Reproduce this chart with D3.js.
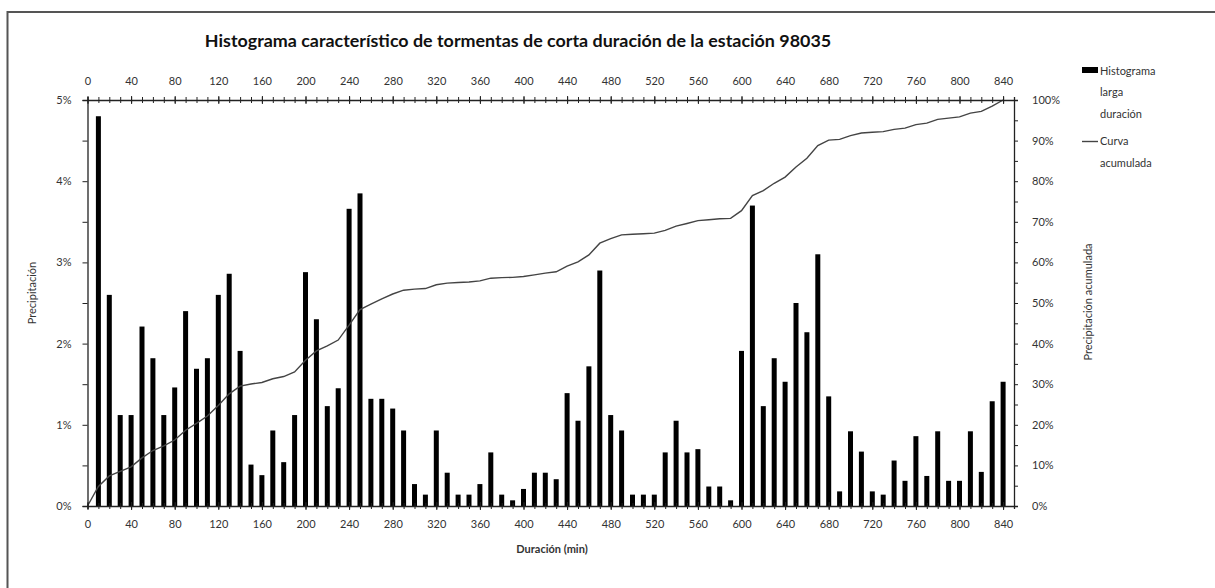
<!DOCTYPE html>
<html>
<head>
<meta charset="utf-8">
<script src="https://cdn.jsdelivr.net/npm/d3@7"></script>
<style>
  html, body { margin: 0; padding: 0; background: #fff; }
  svg { display: block; }
  text { font-family: Lato, "Open Sans", "DejaVu Sans", sans-serif; }
</style>
</head>
<body>
<svg id="chart" width="1215" height="588"></svg>
<script>
// Duración de cada clase del histograma (min)
const duraciones = d3.range(10, 841, 10);

// Precipitación de cada clase (% del total)
const precipitacion = [
  4.80, 2.60, 1.12, 1.12, 2.21, 1.82, 1.12, 1.46, 2.40, 1.69,
  1.82, 2.60, 2.86, 1.91, 0.51, 0.38, 0.93, 0.54, 1.12, 2.88,
  2.30, 1.23, 1.45, 3.66, 3.85, 1.32, 1.32, 1.20, 0.93, 0.27,
  0.14, 0.93, 0.41, 0.14, 0.14, 0.27, 0.66, 0.14, 0.07, 0.21,
  0.41, 0.41, 0.33, 1.39, 1.05, 1.72, 2.90, 1.12, 0.93, 0.14,
  0.14, 0.14, 0.66, 1.05, 0.66, 0.70, 0.24, 0.24, 0.07, 1.91,
  3.70, 1.23, 1.82, 1.53, 2.50, 2.14, 3.10, 1.35, 0.18, 0.92,
  0.67, 0.18, 0.14, 0.56, 0.31, 0.86, 0.37, 0.92, 0.31, 0.31,
  0.92, 0.42, 1.29, 1.53
];

// Curva acumulada (%), empezando en 0 min
const acumuladaMin = [0].concat(duraciones);
const acumulada = [
  0,
  4.80, 7.40, 8.52, 9.64, 11.85, 13.67, 14.79, 16.25, 18.65, 20.34,
  22.16, 24.76, 27.62, 29.53, 30.04, 30.42, 31.35, 31.89, 33.01, 35.89,
  38.19, 39.42, 40.87, 44.53, 48.38, 49.70, 51.02, 52.22, 53.15, 53.42,
  53.56, 54.49, 54.90, 55.04, 55.18, 55.45, 56.11, 56.25, 56.32, 56.53,
  56.94, 57.35, 57.68, 59.07, 60.12, 61.84, 64.74, 65.86, 66.79, 66.93,
  67.07, 67.21, 67.87, 68.92, 69.58, 70.28, 70.52, 70.76, 70.83, 72.74,
  76.44, 77.67, 79.49, 81.02, 83.52, 85.66, 88.76, 90.11, 90.29, 91.21,
  91.88, 92.06, 92.20, 92.76, 93.07, 93.93, 94.30, 95.22, 95.53, 95.84,
  96.76, 97.18, 98.47, 100.00
];

// Marcas de los ejes
const xTicks = d3.range(0, 841, 40);
const xMinor = d3.range(0, 851, 10);
const yTicks = [0, 1, 2, 3, 4, 5];
const yMinor = [0.5, 1.5, 2.5, 3.5, 4.5];
const y2Ticks = d3.range(0, 101, 10);
const y2Minor = d3.range(5, 100, 10);

const titulo = "Histograma característico de tormentas de corta duración de la estación 98035";
const textColor = "#333";

const svg = d3.select("#chart");

// Marco del gráfico
svg.append("rect")
  .attr("x", 7.5).attr("y", 12)
  .attr("width", 1215).attr("height", 600)
  .attr("fill", "#fff")
  .attr("stroke", "#555").attr("stroke-width", 2);

const pLeft = 87.5, pRight = 1014, pTop = 100, pBottom = 506;

const x = d3.scaleLinear().domain([0, 850]).range([pLeft, pRight]);
const y = d3.scaleLinear().domain([0, 5]).range([pBottom, pTop]);
const y2 = d3.scaleLinear().domain([0, 100]).range([pBottom, pTop]);

// Título
const t = svg.append("text")
  .attr("x", 518).attr("y", 47)
  .attr("text-anchor", "middle")
  .attr("font-weight", "bold")
  .attr("font-size", 17)
  .attr("fill", "#111")
  .text(titulo);
const tw = t.node().getComputedTextLength();
t.attr("font-size", 17 * 627 / tw);

// Barras del histograma
svg.append("g")
  .selectAll("rect")
  .data(precipitacion)
  .join("rect")
  .attr("x", (d, i) => x(duraciones[i]) - 2.5)
  .attr("width", 5)
  .attr("y", d => y(d))
  .attr("height", d => pBottom - y(d))
  .attr("fill", "#000");

// Curva acumulada
const linea = d3.line()
  .x((d, i) => x(acumuladaMin[i]))
  .y(d => y2(d));
svg.append("path")
  .datum(acumulada)
  .attr("d", linea)
  .attr("fill", "none")
  .attr("stroke", "#444")
  .attr("stroke-width", 1.4);

function styleAxis(g) {
  g.selectAll(".domain").attr("stroke", "#222").attr("stroke-width", 1.3);
  g.selectAll(".tick line").attr("stroke", "#222").attr("stroke-width", 1);
  g.selectAll(".tick text")
    .attr("fill", textColor)
    .attr("font-size", 11);
}

// Eje inferior
const gBottom = svg.append("g").attr("transform", `translate(0,${pBottom})`);
gBottom.call(d3.axisBottom(x).tickValues(xMinor).tickSize(3).tickFormat(""));
gBottom.selectAll(".tick line").attr("y1", -3);
gBottom.append("g").call(d3.axisBottom(x).tickValues(xTicks).tickSize(4).tickPadding(10))
  .call(g => g.select(".domain").remove())
  .selectAll(".tick line").attr("y1", -4);
styleAxis(gBottom);

// Eje superior
const gTop = svg.append("g").attr("transform", `translate(0,${pTop})`);
gTop.call(d3.axisTop(x).tickValues(xMinor).tickSize(3).tickFormat(""));
gTop.selectAll(".tick line").attr("y1", 3);
gTop.append("g").call(d3.axisTop(x).tickValues(xTicks).tickSize(4).tickPadding(11))
  .call(g => g.select(".domain").remove())
  .selectAll(".tick line").attr("y1", 4);
styleAxis(gTop);

// Eje izquierdo (precipitación)
const gLeft = svg.append("g").attr("transform", `translate(${pLeft},0)`);
gLeft.call(d3.axisLeft(y).tickValues(yMinor).tickSize(5).tickFormat(""));
gLeft.append("g").call(d3.axisLeft(y).tickValues(yTicks).tickSize(5).tickPadding(11)
    .tickFormat(d => d + "%"))
  .call(g => g.select(".domain").remove());
styleAxis(gLeft);

// Eje derecho (acumulada)
const gRight = svg.append("g").attr("transform", `translate(${pRight},0)`);
gRight.call(d3.axisRight(y2).tickValues(y2Minor).tickSize(4).tickFormat(""));
gRight.append("g").call(d3.axisRight(y2).tickValues(y2Ticks).tickSize(4).tickPadding(14)
    .tickFormat(d => d + "%"))
  .call(g => g.select(".domain").remove());
styleAxis(gRight);

// Títulos de ejes
svg.append("text")
  .attr("transform", "translate(36,293) rotate(-90)")
  .attr("text-anchor", "middle")
  .attr("font-size", 11)
  .attr("fill", textColor)
  .text("Precipitación");

svg.append("text")
  .attr("transform", "translate(1092,302) rotate(-90)")
  .attr("text-anchor", "middle")
  .attr("font-size", 11)
  .attr("fill", textColor)
  .text("Precipitación acumulada");

svg.append("text")
  .attr("x", 552).attr("y", 553)
  .attr("text-anchor", "middle")
  .attr("font-size", 11)
  .attr("font-weight", "bold")
  .attr("fill", textColor)
  .text("Duración (min)");

// Leyenda
const leg = svg.append("g");
leg.append("rect")
  .attr("x", 1082).attr("y", 67).attr("width", 16).attr("height", 6)
  .attr("fill", "#000");
[["Histograma", 75], ["larga", 96], ["duración", 118]].forEach(([s, yy]) => {
  leg.append("text").attr("x", 1100).attr("y", yy)
    .attr("font-size", 11).attr("fill", textColor).text(s);
});
leg.append("line")
  .attr("x1", 1082).attr("x2", 1098).attr("y1", 141.5).attr("y2", 141.5)
  .attr("stroke", "#444").attr("stroke-width", 1.4);
[["Curva", 145], ["acumulada", 167]].forEach(([s, yy]) => {
  leg.append("text").attr("x", 1100).attr("y", yy)
    .attr("font-size", 11).attr("fill", textColor).text(s);
});
</script>
</body>
</html>
